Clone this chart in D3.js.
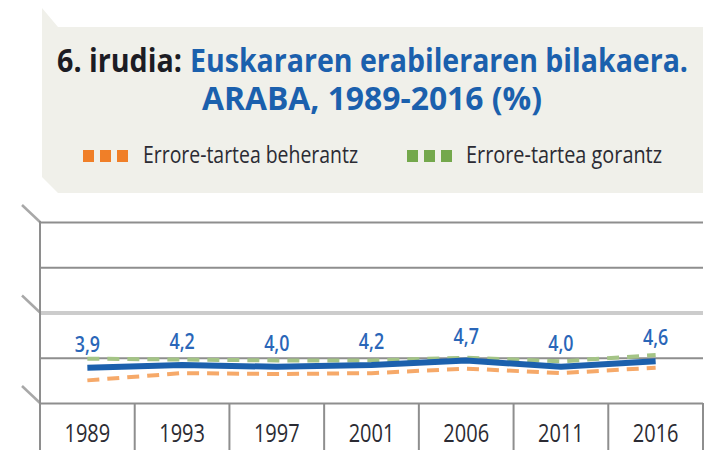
<!DOCTYPE html>
<html>
<head>
<meta charset="utf-8">
<script src="https://cdn.jsdelivr.net/npm/d3@7"></script>
<style>
  body { margin: 0; background: #fff; }
  text { font-family: "Open Sans", "DejaVu Sans Condensed", sans-serif; }
</style>
</head>
<body>
<div id="graph"></div>
<script>
// values (%)
const years = ["1989", "1993", "1997", "2001", "2006", "2011", "2016"];
const usage = [3.9, 4.2, 4.0, 4.2, 4.7, 4.0, 4.6];
const lowerBound = [2.5, 3.3, 3.2, 3.3, 3.8, 3.3, 3.9];
const upperBound = [4.9, 4.8, 4.7, 4.7, 5.0, 4.6, 5.3];
const gridTicks = [0, 5, 10, 15, 20];
const slashTicks = [0, 10, 20];
const legendNames = ["Errore-tartea beherantz", "Errore-tartea gorantz"];

const W = 721, H = 475;
const plotLeft = 40, plotRight = 703, plotTop = 222, plotBase = 403, plotBottom = 450;

const blue = "#1b60ad";
const orange = "#f07f28";
const green = "#74a84c";

const svg = d3.select("#graph")
  .append("svg")
  .attr("width", W)
  .attr("height", H);

// squeeze a text to a width, fonts here are wider than the original one
const fit = (sel, w) => sel.attr("textLength", w).attr("lengthAdjust", "spacingAndGlyphs");
const condense = (sel, k) => sel.each(function () {
  d3.select(this).attr("textLength", this.getComputedTextLength() * k)
    .attr("lengthAdjust", "spacingAndGlyphs");
});

// title box
svg.append("polygon")
  .attr("points", "42,8 58,27 703,27 703,193 58,193 42,177")
  .attr("fill", "#f0f0ea");

svg.append("text")
  .attr("x", 57).attr("y", 72)
  .attr("font-size", 32).attr("font-weight", 700)
  .attr("fill", "#1c1c24")
  .text("6. irudia:")
  .call(fit, 125);

svg.append("text")
  .attr("x", 190).attr("y", 72)
  .attr("font-size", 32).attr("font-weight", 700)
  .attr("fill", blue)
  .text("Euskararen erabileraren bilakaera.")
  .call(fit, 498);

svg.append("text")
  .attr("x", 372).attr("y", 110)
  .attr("text-anchor", "middle")
  .attr("font-size", 32).attr("font-weight", 700)
  .attr("fill", blue)
  .text("ARABA, 1989-2016 (%)")
  .call(fit, 340);

// legend
const legend = [
  { name: legendNames[0], color: orange, x: 83, tx: 143, w: 215 },
  { name: legendNames[1], color: green, x: 407, tx: 466, w: 196 }
];
legend.forEach((l) => {
  svg.selectAll(null)
    .data([0, 1, 2])
    .enter()
    .append("rect")
    .attr("x", (d) => l.x + d * 17)
    .attr("y", 150)
    .attr("width", 11)
    .attr("height", 12)
    .attr("fill", l.color);
  svg.append("text")
    .attr("x", l.tx).attr("y", 163)
    .attr("font-size", 23)
    .attr("fill", "#2b2b33")
    .text(l.name)
    .call(fit, l.w);
});

// scales
const xScale = d3.scaleBand()
  .domain(years)
  .range([plotLeft, plotRight]);

const yScale = d3.scaleLinear()
  .domain([0, 20])
  .range([plotBase, plotTop]);

const cx = (i) => xScale(years[i]) + xScale.bandwidth() / 2;

// horizontal grid
const grid = svg.append("g")
  .attr("transform", "translate(" + plotLeft + ",0)")
  .call(d3.axisLeft(yScale).tickValues(gridTicks).tickSize(-(plotRight - plotLeft)).tickFormat(""));
grid.select(".domain").remove();
grid.selectAll(".tick line")
  .attr("stroke", (d) => d === 10 ? "#cccccc" : "#8e8e8e")
  .attr("stroke-width", (d) => d === 10 ? 4 : 2);

// slanted marks on the left of the axis
svg.selectAll(".slash")
  .data(slashTicks)
  .enter()
  .append("line")
  .attr("class", "slash")
  .attr("x1", plotLeft - 18)
  .attr("y1", (d) => yScale(d) - 17)
  .attr("x2", plotLeft)
  .attr("y2", (d) => yScale(d))
  .attr("stroke", "#a8a8a8")
  .attr("stroke-width", 2.5);

// vertical axis line
svg.append("line")
  .attr("x1", plotLeft).attr("x2", plotLeft)
  .attr("y1", plotTop - 1).attr("y2", plotBottom)
  .attr("stroke", "#8e8e8e")
  .attr("stroke-width", 2);

// category cells under the baseline
svg.selectAll(".divider")
  .data(years)
  .enter()
  .append("line")
  .attr("class", "divider")
  .attr("x1", (d) => xScale(d) + xScale.bandwidth())
  .attr("x2", (d) => xScale(d) + xScale.bandwidth())
  .attr("y1", plotBase)
  .attr("y2", plotBottom)
  .attr("stroke", "#8e8e8e")
  .attr("stroke-width", 2);

const xAxis = svg.append("g")
  .attr("transform", "translate(0," + plotBase + ")")
  .call(d3.axisBottom(xScale).tickSize(0).tickPadding(0));
xAxis.select(".domain").remove();
xAxis.selectAll("text")
  .attr("y", 39)
  .attr("dy", 0)
  .attr("font-size", 25)
  .attr("font-family", null)
  .attr("fill", "#2b2b33")
  .call(condense, 0.8);

// error margins then the main line
const line = (vals) => d3.line()
  .x((d, i) => cx(i))
  .y((d) => yScale(d))(vals);

svg.append("path")
  .attr("d", line(upperBound))
  .attr("fill", "none")
  .attr("stroke", "#a4c486")
  .attr("stroke-width", 4)
  .attr("stroke-dasharray", "12,8");

svg.append("path")
  .attr("d", line(lowerBound))
  .attr("fill", "none")
  .attr("stroke", "#f6a969")
  .attr("stroke-width", 4)
  .attr("stroke-dasharray", "12,8");

svg.append("path")
  .attr("d", line(usage))
  .attr("fill", "none")
  .attr("stroke", blue)
  .attr("stroke-width", 6);

svg.selectAll(".val")
  .data(usage)
  .enter()
  .append("text")
  .attr("class", "val")
  .attr("x", (d, i) => cx(i))
  .attr("y", (d) => yScale(d) - 16)
  .attr("text-anchor", "middle")
  .attr("font-size", 21)
  .attr("font-weight", 600)
  .attr("fill", "#2a66b8")
  .text((d) => d.toFixed(1).replace(".", ","))
  .call(condense, 0.85);
</script>
</body>
</html>
